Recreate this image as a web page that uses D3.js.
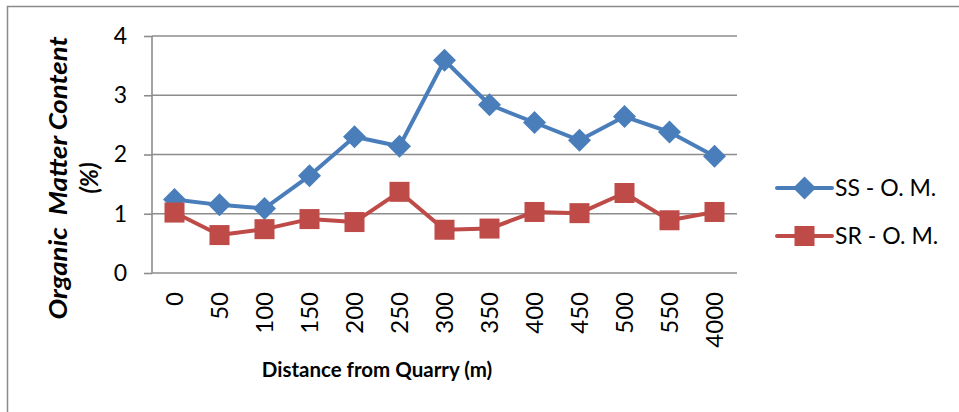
<!DOCTYPE html>
<html><head><meta charset="utf-8">
<script src="https://cdn.jsdelivr.net/npm/d3@7"></script>
<style>html,body{margin:0;padding:0;background:#fff;}svg{display:block;font-family:Lato,"Open Sans",sans-serif;}</style>
</head><body><svg id="c" width="959" height="412"></svg>
<script>
const categories = ["0","50","100","150","200","250","300","350","400","450","500","550","4000"];
const ssValues = [1.24,1.15,1.09,1.64,2.30,2.14,3.59,2.84,2.54,2.24,2.64,2.38,1.97];
const srValues = [1.02,0.64,0.74,0.91,0.86,1.37,0.73,0.75,1.03,1.01,1.35,0.89,1.03];
const yTicks = [0,1,2,3,4];
const seriesNames = ["SS - O. M.","SR - O. M."];
const colors = ["#4a7ebb","#be4b48"];

const svg = d3.select("#c");
svg.append("rect").attr("x",7.5).attr("y",6.5).attr("width",960).attr("height",420)
  .attr("fill","none").attr("stroke","#8a8a8a").attr("stroke-width",1.5);

const L=152, R=737, T=36, B=273;
const x = d3.scaleBand().domain(categories).range([L,R]);
const y = d3.scaleLinear().domain([0,4]).range([B,T]);

// gridlines
svg.append("g").selectAll("line").data(yTicks.filter(d=>d>0)).join("line")
  .attr("x1",L).attr("x2",R).attr("y1",d=>y(d)).attr("y2",d=>y(d))
  .attr("stroke","#8c8c8c").attr("stroke-width",1.6);

// y axis
const ya = svg.append("g").attr("transform",`translate(${L},0)`)
  .call(d3.axisLeft(y).tickValues(yTicks).tickSize(8).tickPadding(17).tickFormat(d3.format("d")));
ya.select(".domain").attr("stroke","#8c8c8c").attr("stroke-width",1.6).attr("d",`M0,${T}V${B}`);
ya.selectAll(".tick line").attr("stroke","#8c8c8c").attr("stroke-width",1.6);
ya.selectAll(".tick text").attr("font-size",23).attr("fill","#000").attr("font-family","Lato");

// x axis
const xa = svg.append("g").attr("transform",`translate(0,${B})`)
  .call(d3.axisBottom(x).tickSize(0).tickPadding(0));
xa.select(".domain").attr("stroke","#8c8c8c").attr("stroke-width",1.6).attr("d",`M${L},0H${R}`);
xa.selectAll(".tick text").attr("font-size",24).attr("fill","#000").attr("font-family","Lato")
  .attr("text-anchor","end").attr("dy","0.35em")
  .attr("transform","translate(0,19) rotate(-90)");

// lines
const series = [ssValues, srValues];
const line = d3.line().x((d,i)=>x(categories[i])+x.bandwidth()/2).y(d=>y(d));
series.forEach((vals,si)=>{
  svg.append("path").datum(vals).attr("d",line).attr("fill","none")
    .attr("stroke",colors[si]).attr("stroke-width",4).attr("stroke-linejoin","round");
});
// markers
function drawMarker(g, si, cx, cy){
  if(si===0){
    const s=11.5;
    g.append("path").attr("d",`M${cx},${cy-s}L${cx+s},${cy}L${cx},${cy+s}L${cx-s},${cy}Z`).attr("fill",colors[0]);
  } else {
    const s=10;
    g.append("rect").attr("x",cx-s).attr("y",cy-s).attr("width",2*s).attr("height",2*s).attr("fill",colors[1]);
  }
}
series.forEach((vals,si)=>{
  const g = svg.append("g");
  vals.forEach((v,i)=>drawMarker(g,si,x(categories[i])+x.bandwidth()/2,y(v)));
});

// legend
seriesNames.forEach((n,i)=>{
  const ly = 188 + i*48;
  svg.append("line").attr("x1",777).attr("x2",832).attr("y1",ly).attr("y2",ly)
    .attr("stroke",colors[i]).attr("stroke-width",4).attr("stroke-linecap","round");
  drawMarker(svg,i,804.5,ly);
  svg.append("text").attr("x",835).attr("y",ly).attr("dy","0.35em").attr("font-size",23).text(n);
});

// axis titles
svg.append("text").attr("x",377).attr("y",377).attr("text-anchor","middle")
  .attr("font-size",20.5).attr("font-weight","bold")
  .text("Distance from Quarry (m)");
const yt = svg.append("text").attr("transform","translate(0,178) rotate(-90)")
  .attr("text-anchor","middle").attr("font-size",24).attr("font-weight","bold").attr("font-style","italic");
yt.append("tspan").attr("x",0).attr("y",67).attr("xml:space","preserve")
  .attr("textLength",283).attr("lengthAdjust","spacingAndGlyphs").text("Organic  Matter Content");
yt.append("tspan").attr("x",0).attr("y",98).text("(%)");
</script></body></html>
